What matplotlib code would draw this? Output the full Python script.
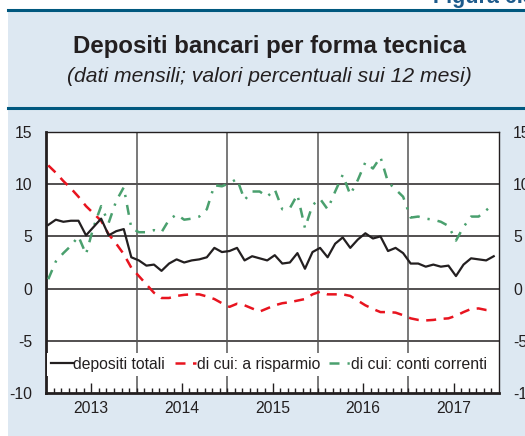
import numpy as np
import matplotlib
matplotlib.use("Agg")
import matplotlib.pyplot as plt
from matplotlib.patches import Rectangle
from matplotlib.lines import Line2D
from matplotlib.ticker import MultipleLocator, FixedLocator

plt.rcParams['font.family'] = ['Liberation Sans', 'DejaVu Sans']
plt.rcParams['axes.unicode_minus'] = False

# monthly series, Jan 2013 - Dec 2017 (12-month % change)
years = ['2013', '2014', '2015', '2016', '2017']

depositi_totali = [
    6.1, 6.6, 6.4, 6.5, 6.5, 5.1, 5.9, 6.7, 5.1, 5.5, 5.7, 3.0,
    2.7, 2.2, 2.3, 1.7, 2.4, 2.8, 2.5, 2.7, 2.8, 3.0, 3.9, 3.5,
    3.6, 3.9, 2.7, 3.1, 2.9, 2.7, 3.2, 2.4, 2.5, 3.4, 1.9, 3.5,
    3.9, 3.0, 4.3, 4.9, 3.9, 4.7, 5.3, 4.8, 5.0, 3.6, 3.9, 3.4,
    2.4, 2.4, 2.1, 2.3, 2.1, 2.2, 1.2, 2.3, 2.9, 2.8, 2.7, 3.1,
]

a_risparmio = [
    11.8, 11.1, 10.3, 9.6, 8.8, 7.9, 7.2, 6.5, 5.2, 4.3, 3.3, 2.0,
    1.2, 0.4, -0.4, -0.9, -0.9, -0.7, -0.6, -0.55, -0.55, -0.75, -1.0, -1.4,
    -1.75, -1.45, -1.6, -1.9, -2.2, -1.9, -1.6, -1.4, -1.3, -1.15, -1.0, -0.55,
    -0.3, -0.55, -0.55, -0.55, -0.7, -1.15, -1.6, -1.95, -2.25, -2.25, -2.3, -2.55,
    -2.85, -3.0, -3.05, -3.0, -2.9, -2.85, -2.6, -2.25, -1.95, -1.9, -2.05, -2.1,
]

conti_correnti = [
    0.9, 2.6, 3.4, 4.1, 5.0, 3.3, 5.9, 7.9, 6.3, 8.4, 9.7, 5.8,
    5.4, 5.4, 5.6, 5.4, 6.6, 7.1, 6.6, 6.7, 6.9, 7.6, 9.9, 9.8,
    10.1, 10.5, 8.5, 9.3, 9.3, 8.8, 9.5, 7.6, 7.7, 9.0, 5.8, 8.0,
    8.6, 7.6, 9.3, 10.9, 9.0, 10.4, 12.1, 11.5, 12.6, 10.2, 9.5, 8.8,
    6.8, 6.9, 6.7, 6.6, 6.4, 6.0, 4.6, 5.9, 6.9, 6.9, 7.5, 8.1,
]

labels = ['depositi totali', 'di cui: a risparmio', 'di cui: conti correnti']

W, H = 525, 436
fig = plt.figure(figsize=(W / 100, H / 100), dpi=100, facecolor='white')

# header band and panel background
panel = '#dde8f2'
rule = '#00587f'
fig.patches.append(Rectangle((8 / W, 0), 1, 1 - 10 / H, transform=fig.transFigure,
                             facecolor=panel, edgecolor='none', zorder=-10))
fig.add_artist(Line2D([8 / W, 1], [1 - 10 / H] * 2, color=rule, lw=2.2))
fig.add_artist(Line2D([8 / W, 1], [1 - 108 / H] * 2, color=rule, lw=2.2))
fig.text(433 / W, 1 - 3 / H, 'Figura 6.3', color='#1d5b8c', fontsize=15.5,
         fontweight='bold', ha='left', va='baseline')

fig.text(0.513, 1 - 47 / H, 'Depositi bancari per forma tecnica', ha='center',
         va='center', fontsize=17.3, fontweight='bold', color='#231f20')
fig.text(0.513, 1 - 76 / H, '(dati mensili; valori percentuali sui 12 mesi)',
         ha='center', va='center', fontsize=15.2, fontstyle='italic', color='#231f20')

ax = fig.add_axes([46 / W, 1 - 393 / H, 453 / W, 261 / H])
ax.set_facecolor('white')

n = len(depositi_totali)
x = np.arange(n) + 0.3

l1, = ax.plot(x, depositi_totali, color='#231f20', lw=1.6, zorder=4)
l2, = ax.plot(x, a_risparmio, color='#e8141f', lw=1.8, zorder=3,
              dashes=(4.0, 3.0))
l3, = ax.plot(x, conti_correnti, color='#4aa06e', lw=1.8, zorder=3,
              dashes=(4.0, 3.2, 0.9, 3.2))

ax.set_xlim(0, n)
ax.set_ylim(-10, 15)
ax.yaxis.set_major_locator(MultipleLocator(5))

# year boundaries as grid, year labels at mid-year
ax.xaxis.set_major_locator(FixedLocator(np.arange(6, n, 12)))
ax.set_xticklabels(years)
ax.xaxis.set_minor_locator(FixedLocator([m for m in range(1, n) if m % 12 != 6]))
ax.tick_params(axis='x', which='major', direction='in', length=7, width=1,
               labelsize=11.3, pad=6, colors='#231f20')
ax.tick_params(axis='x', which='minor', direction='in', length=3.5, width=1,
               color='#231f20')
ax.tick_params(axis='y', length=0, labelsize=11.3, pad=10, colors='#231f20')

for v in range(-5, 15, 5):
    ax.axhline(v, color='#231f20', lw=1.1, zorder=1)
for k in range(12, n, 12):
    ax.axvline(k, color='#555555', lw=1.1, zorder=1)

for side in ['left', 'bottom']:
    ax.spines[side].set_linewidth(2)
for side in ['top', 'right']:
    ax.spines[side].set_linewidth(1)
for s in ax.spines.values():
    s.set_color('#231f20')

ax2 = ax.twinx()
ax2.set_ylim(ax.get_ylim())
ax2.yaxis.set_major_locator(MultipleLocator(5))
ax2.tick_params(axis='y', length=0, labelsize=11.3, pad=10, colors='#231f20')
for s in ax2.spines.values():
    s.set_visible(False)

leg = ax.legend([l1, l2, l3], labels, loc='lower center',
                bbox_to_anchor=(0.493, 0.067), ncol=3, fontsize=11.3,
                frameon=True, fancybox=False, framealpha=1, edgecolor='none',
                facecolor='white', handlelength=1.35, handletextpad=0.05,
                columnspacing=0.6, borderpad=0.25, borderaxespad=0)
leg.set_zorder(5)
for t in leg.get_texts():
    t.set_color('#231f20')

fig.savefig('out.png', dpi=100, facecolor=fig.get_facecolor())
